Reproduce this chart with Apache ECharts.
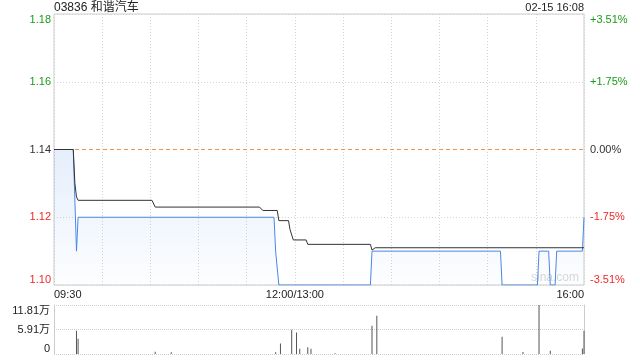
<!DOCTYPE html>
<html>
<head>
<meta charset="utf-8">
<script src="https://cdn.jsdelivr.net/npm/echarts@6/dist/echarts.min.js"></script>
<style>
html,body{margin:0;padding:0;background:#fff;}
#chart{width:640px;height:360px;}
</style>
</head>
<body>
<div id="chart"></div>
<script>
// ---- data ----
const titleText = '03836 和谐汽车';
const timeText = '02-15 16:08';
const prevClose = 1.14;
const sessionMinutes = [0, 330];

// minutes since 09:30 (lunch break removed), 0..330
const priceMinutes = [0, 12, 14, 15, 137, 138, 139, 140, 197, 198, 278, 279, 301, 302, 308, 309, 312, 313, 329, 330];
const priceValues  = [1.14, 1.14, 1.11, 1.12, 1.12, 1.11, 1.11, 1.10, 1.10, 1.11, 1.11, 1.10, 1.10, 1.11, 1.11, 1.10, 1.10, 1.11, 1.11, 1.12];

const avgMinutes = [0, 12, 13, 14, 15, 61, 63, 128, 130, 139, 140, 146, 147, 148, 149, 157, 158, 197, 198, 200, 330];
const avgValues  = [1.14, 1.14, 1.13, 1.126, 1.125, 1.125, 1.123, 1.123, 1.122, 1.122, 1.119, 1.119, 1.1163, 1.1163, 1.1133, 1.1133, 1.112, 1.112, 1.1103, 1.111, 1.111];

const volMinutes = [14, 15, 63, 73, 138, 141, 148, 151, 153, 158, 160, 175, 198, 201, 279, 292, 302, 309, 329, 330];
const volValues  = [5.6, 3.7, 0.55, 0.4, 0.4, 2.55, 5.86, 5.2, 1.28, 1.6, 1.28, 0.2, 6.8, 9.2, 4.17, 0.5, 11.81, 0.8, 1.3, 5.6];

const xTickMinutes = [0, 150, 330];
const xTickLabels = ['09:30', '12:00/13:00', '16:00'];
const priceTickLabels = ['1.10', '1.12', '1.14', '1.16', '1.18'];
const pctTickLabels = ['-3.51%', '-1.75%', '0.00%', '+1.75%', '+3.51%'];
const volTickLabels = ['0', '5.91万', '11.81万'];
const volMax = 11.81;

// ---- chart ----
const GREEN = '#1a9b1a', RED = '#f02828', BLACK = '#333';
const FONT = '"Liberation Sans", Arial, "Noto Sans CJK SC", sans-serif';
const tickColor = (i) => i < 2 ? RED : (i === 2 ? BLACK : GREEN);
const GRIDC = '#d4d4d4';

const zip = (a, b) => a.map((v, i) => [v, b[i]]);

const chart = echarts.init(document.getElementById('chart'), null, {renderer: 'canvas'});
chart.setOption({
  animation: false,
  backgroundColor: '#fff',
  textStyle: {fontFamily: FONT},
  grid: [
    {left: 54, right: 56, top: 14, height: 271, show: true, borderColor: '#ccc', borderWidth: 1, backgroundColor: 'transparent'},
    {left: 54, right: 56, top: 305, height: 49}
  ],
  graphic: [
    {type: 'text', left: 54, top: 2, style: {text: titleText, font: '12px ' + FONT, fill: '#222'}},
    {type: 'text', right: 56, top: 2, style: {text: timeText, font: '11px ' + FONT, fill: '#222'}},
    {type: 'text', left: 531, top: 272, z: 0, style: {text: 'sina.com', font: '12px ' + FONT, fill: '#d8d8d8'}}
  ],
  xAxis: [
    {
      type: 'value', gridIndex: 0, min: 0, max: 330, interval: 30,
      axisLine: {show: false}, axisTick: {show: false},
      splitLine: {show: true, lineStyle: {color: GRIDC, type: [1, 2]}},
      axisLabel: {
        show: true, margin: 4, fontSize: 11, color: '#222', fontFamily: FONT,
        showMinLabel: true, showMaxLabel: true,
        alignMinLabel: 'left', alignMaxLabel: 'right',
        formatter: (v) => { const k = xTickMinutes.indexOf(Math.round(v)); return k >= 0 ? xTickLabels[k] : ''; }
      }
    },
    {
      type: 'value', gridIndex: 1, min: 0, max: 330, interval: 30,
      axisLine: {show: false}, axisTick: {show: false}, axisLabel: {show: false},
      splitLine: {show: false}
    }
  ],
  yAxis: [
    {
      type: 'value', gridIndex: 0, min: 1.10, max: 1.18, interval: 0.02,
      axisLine: {show: false}, axisTick: {show: false},
      splitLine: {show: true, lineStyle: {color: [GRIDC, GRIDC, 'rgba(0,0,0,0)', GRIDC, GRIDC], type: [1, 2]}},
      axisLabel: {
        margin: 3, fontSize: 11, fontFamily: FONT,
        verticalAlignMinLabel: 'bottom', verticalAlignMaxLabel: 'top',
        formatter: (v, i) => priceTickLabels[i],
        color: (v, i) => tickColor(i)
      }
    },
    {
      type: 'value', gridIndex: 0, position: 'right', min: 1.10, max: 1.18, interval: 0.02,
      axisLine: {show: false}, axisTick: {show: false}, splitLine: {show: false},
      axisLabel: {
        margin: 6, fontSize: 11, fontFamily: FONT,
        verticalAlignMinLabel: 'bottom', verticalAlignMaxLabel: 'top',
        formatter: (v, i) => pctTickLabels[i],
        color: (v, i) => tickColor(i)
      }
    },
    {
      type: 'value', gridIndex: 1, min: 0, max: volMax, interval: volMax / 2,
      axisLine: {show: true, lineStyle: {color: '#ccc'}}, axisTick: {show: false},
      splitLine: {show: true, lineStyle: {color: '#cfcfcf', type: [1, 1]}},
      axisLabel: {
        margin: 4, fontSize: 11, color: '#222', fontFamily: FONT,
        verticalAlignMinLabel: 'bottom', verticalAlignMaxLabel: 'top',
        formatter: (v, i) => volTickLabels[i]
      }
    },
    {
      type: 'value', gridIndex: 1, position: 'right', min: 0, max: volMax, interval: volMax / 2,
      axisLine: {show: true, lineStyle: {color: '#ccc'}}, axisTick: {show: false},
      axisLabel: {show: false}, splitLine: {show: false}
    }
  ],
  series: [
    {
      type: 'line', name: 'prevClose', xAxisIndex: 0, yAxisIndex: 0,
      data: sessionMinutes.map(m => [m, prevClose]),
      symbol: 'none', z: 2, silent: true,
      lineStyle: {color: '#f0944a', type: [4, 3], width: 1}
    },
    {
      type: 'line', name: 'price', xAxisIndex: 0, yAxisIndex: 0,
      data: zip(priceMinutes, priceValues),
      symbol: 'none', z: 3,
      lineStyle: {color: '#4a86e8', width: 1},
      areaStyle: {
        origin: 'start',
        color: {type: 'linear', x: 0, y: 0, x2: 0, y2: 1, colorStops: [
          {offset: 0, color: 'rgba(74,134,232,0.2)'},
          {offset: 1, color: 'rgba(74,134,232,0.02)'}
        ]}
      }
    },
    {
      type: 'line', name: 'avg', xAxisIndex: 0, yAxisIndex: 0,
      data: zip(avgMinutes, avgValues),
      symbol: 'none', z: 4,
      lineStyle: {color: '#333', width: 1}
    },
    {
      type: 'bar', name: 'vol', xAxisIndex: 1, yAxisIndex: 2,
      data: zip(volMinutes, volValues),
      barWidth: 1,
      itemStyle: {color: '#555'}
    }
  ]
});
</script>
</body>
</html>
